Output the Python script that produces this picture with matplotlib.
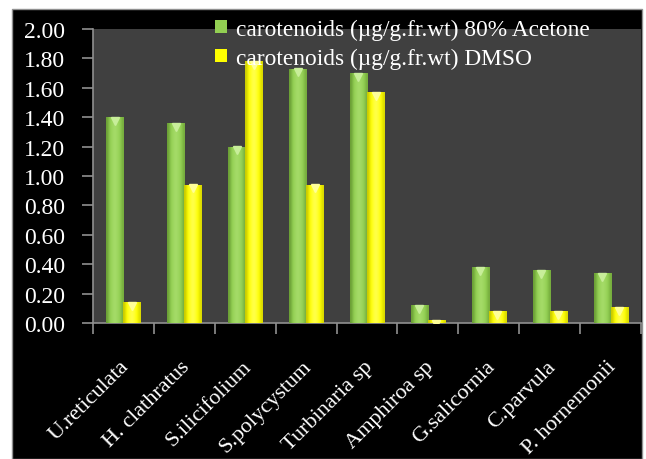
import matplotlib.pyplot as plt
import numpy as np
from matplotlib.patches import Rectangle
from matplotlib.colors import LinearSegmentedColormap

species = ["U.reticulata", "H. clathratus", "S.ilicifolium", "S.polycystum", "Turbinaria sp",
           "Amphiroa sp", "G.salicornia", "C.parvula", "P. hornemonii"]
acetone = [1.40, 1.36, 1.20, 1.73, 1.70, 0.12, 0.38, 0.36, 0.34]
dmso = [0.14, 0.94, 1.78, 0.94, 1.57, 0.02, 0.08, 0.08, 0.11]
yticks = [0.0, 0.2, 0.4, 0.6, 0.8, 1.0, 1.2, 1.4, 1.6, 1.8, 2.0]

plt.rcParams['font.family'] = ['Liberation Serif', 'DejaVu Serif']

fig = plt.figure(figsize=(6.46, 4.6), dpi=100, facecolor='white')
fig.patches.append(Rectangle((12 / 646, 0), 630 / 646, 450 / 460, transform=fig.transFigure,
                             facecolor='black', edgecolor='#909090', lw=1, zorder=-5))
ax = fig.add_axes([93 / 646, 136 / 460, 548 / 646, 294 / 460])
ax.set_facecolor('#404040')

x = np.arange(len(species))
w = 0.28


def shaded_bars(xs, vals, cols):
    bars = ax.bar(xs, vals, w, color=cols[1], edgecolor='none', zorder=2)
    grad = np.array([[0.0, 0.5, 0.8, 1.0, 0.8, 0.5, 0.15]])
    cm = LinearSegmentedColormap.from_list('c', cols)
    for b in bars:
        bx, by = b.get_x(), b.get_y()
        bw, bh = b.get_width(), b.get_height()
        im = ax.imshow(grad, cmap=cm, vmin=0, vmax=1, aspect='auto', interpolation='bicubic',
                       extent=[bx, bx + bw, by, by + bh], zorder=3)
        im.set_clip_path(b)
    return bars


shaded_bars(x - w / 2, acetone, ['#6a9e35', '#92cf52', '#a6dc6a'])
shaded_bars(x + w / 2, dmso, ['#c8c800', '#ffff00', '#ffff50'])
ax.plot(x - w / 2, np.array(acetone) - 0.025, linestyle='none', marker='v', ms=6,
        color='#c8ee9a', zorder=4)
ax.plot(x + w / 2, np.array(dmso) - 0.025, linestyle='none', marker='v', ms=6,
        color='#ffff99', zorder=4)

ax.set_xlim(-0.5, len(species) - 0.5)
ax.set_ylim(0, 2.0)
ax.set_yticks(yticks)
ax.set_yticklabels([f"{v:.2f}" for v in yticks])
ax.set_xticks(x + 0.05)
ax.set_xticklabels(species, rotation=45, ha='right', va='center', rotation_mode='anchor')
ax.set_xticks(np.arange(len(species) + 1) - 0.5, minor=True)
ax.tick_params(axis='x', which='major', length=0, pad=29, colors='white', labelsize=16)
ax.tick_params(axis='x', which='minor', length=8, color='#909090', width=1.2)
ax.tick_params(axis='y', length=8, color='#909090', width=1.2, labelcolor='white', labelsize=17, pad=12)
for s in ['top', 'right']:
    ax.spines[s].set_visible(False)
for s in ['left', 'bottom']:
    ax.spines[s].set_color('#909090')
    ax.spines[s].set_linewidth(1.2)

handles = [Rectangle((0, 0), 1, 1, facecolor='#92cf52'), Rectangle((0, 0), 1, 1, facecolor='#ffff00')]
leg = fig.legend(handles, ["carotenoids (\u00b5g/g.fr.wt) 80% Acetone", "carotenoids (\u00b5g/g.fr.wt) DMSO"],
                 loc='upper left', bbox_to_anchor=(206 / 646, 1 - 10 / 460), frameon=False,
                 fontsize=16.8, handlelength=0.5, handleheight=0.5, handletextpad=0.4,
                 labelspacing=0.35, borderaxespad=0)
for t in leg.get_texts():
    t.set_color('white')

fig.savefig('out.png', dpi=100, facecolor='white')
